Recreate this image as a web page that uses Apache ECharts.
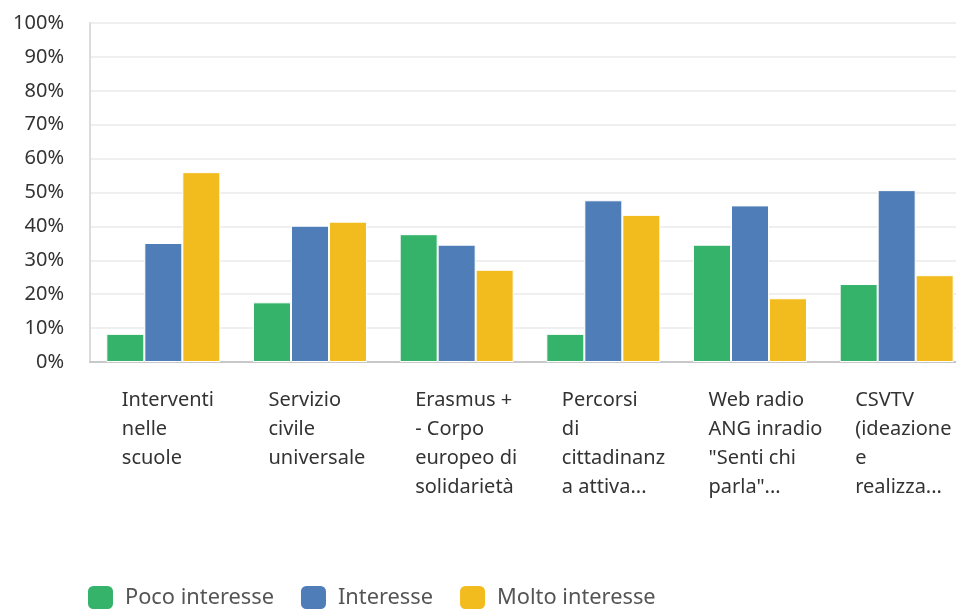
<!DOCTYPE html>
<html>
<head>
<meta charset="utf-8">
<script src="https://cdn.jsdelivr.net/npm/echarts@6/dist/echarts.min.js"></script>
<style>
  html, body { margin: 0; padding: 0; background: #fff; }
  #chart { width: 956px; height: 609px; }
</style>
</head>
<body>
<div id="chart"></div>
<script>
// etichette come appaiono nel grafico (già spezzate)
var categorie = [
  "Interventi\nnelle\nscuole",
  "Servizio\ncivile\nuniversale",
  "Erasmus +\n- Corpo\neuropeo di\nsolidarietà",
  "Percorsi\ndi\ncittadinanz\na attiva...",
  "Web radio\nANG inradio\n\"Senti chi\nparla\"...",
  "CSVTV\n(ideazione\ne\nrealizza..."
];
var pocoInteresse = [8.3, 17.6, 37.7, 8.3, 34.6, 23.0];
var interesse = [35.1, 40.2, 34.6, 47.7, 46.2, 50.7];
var moltoInteresse = [56.0, 41.4, 27.2, 43.4, 18.8, 25.6];
var nomiSerie = ["Poco interesse", "Interesse", "Molto interesse"];

var myChart = echarts.init(document.getElementById("chart"));

function serie(nome, dati) {
  return {
    name: nome,
    type: "bar",
    data: dati,
    barWidth: 38,
    barGap: "0%",
    itemStyle: { borderColor: "#fff", borderWidth: 1 }
  };
}

var option = {
  animation: false,
  color: ["#36b36a", "#4f7db7", "#f2bb1e"],
  textStyle: { fontFamily: "Noto Sans" },
  // la griglia prosegue oltre il bordo destro (ultima colonna tagliata)
  grid: { left: 90, width: 880, top: 23, bottom: 247, outerBoundsMode: "none", containLabel: false },
  legend: {
    left: 86,
    top: 584,
    padding: 0,
    itemWidth: 27,
    itemHeight: 25,
    itemGap: 25,
    icon: "roundRect",
    data: nomiSerie,
    textStyle: { fontSize: 21.8, color: "#555", fontFamily: "Noto Sans", padding: [0, 0, 0, 6] }
  },
  xAxis: {
    type: "category",
    data: categorie,
    axisLine: { show: true, lineStyle: { color: "#c8c8c8", width: 2 } },
    axisTick: { show: false },
    axisLabel: {
      interval: 0,
      margin: 24,
      align: "center",
      color: "#333",
      formatter: function (v) {
        return v.split("\n").map(function (s) { return "{t|" + s + "}"; }).join("\n");
      },
      rich: {
        t: { width: 83, align: "left", fontSize: 20, lineHeight: 29, color: "#333", fontFamily: "Noto Sans" }
      }
    }
  },
  yAxis: {
    type: "value",
    min: 0,
    max: 100,
    interval: 10,
    axisLine: { show: true, lineStyle: { color: "#dcdcdc", width: 2 } },
    axisTick: { show: false },
    axisLabel: { formatter: "{value}%", fontSize: 20, color: "#333", margin: 26 },
    splitLine: { lineStyle: { color: "#efefef", width: 2 } }
  },
  series: [
    serie(nomiSerie[0], pocoInteresse),
    serie(nomiSerie[1], interesse),
    serie(nomiSerie[2], moltoInteresse)
  ]
};
myChart.setOption(option);
</script>
</body>
</html>
